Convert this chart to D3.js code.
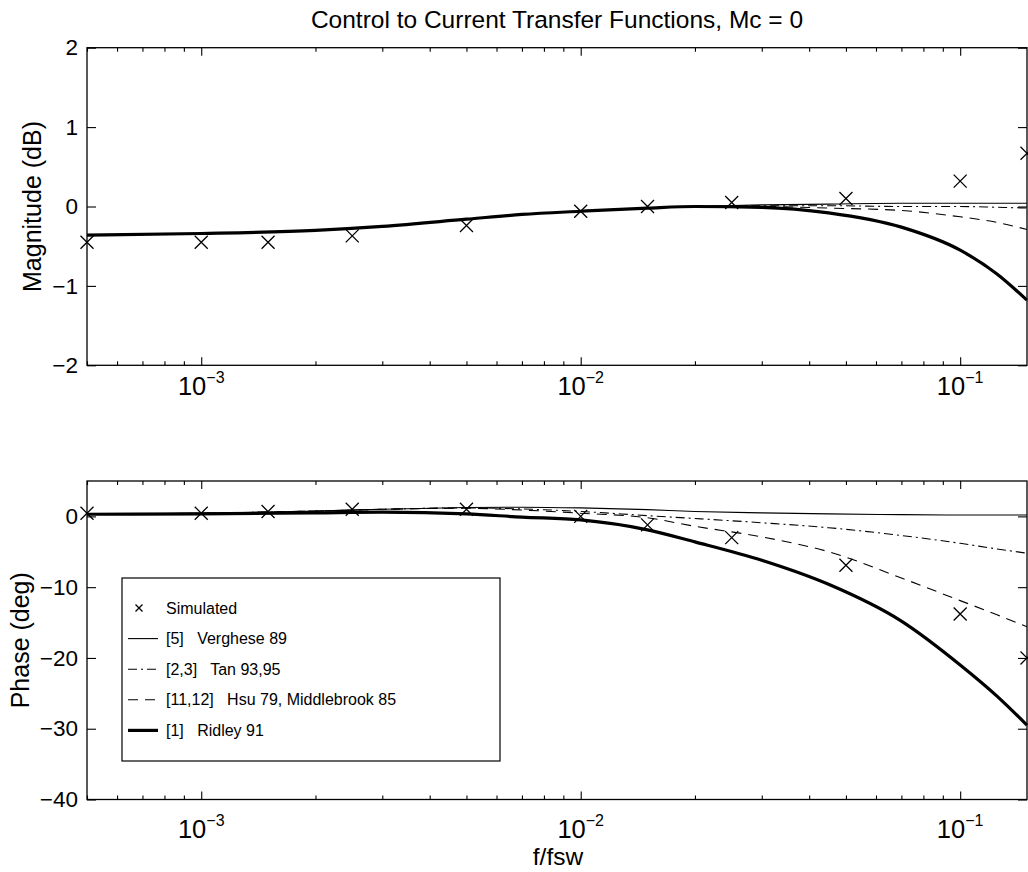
<!DOCTYPE html>
<html>
<head>
<meta charset="utf-8">
<script src="https://cdn.jsdelivr.net/npm/d3@7"></script>
<style>
body { margin: 0; background: #fff; }
svg { display: block; font-family: "Liberation Sans", Arial, Helvetica, sans-serif; }
</style>
</head>
<body>
<div id="chart"></div>
<script>
const freq = [5e-4, 1e-3, 2e-3, 3e-3, 5e-3, 7e-3, 1e-2, 1.5e-2, 2e-2, 3e-2, 4.5e-2, 7e-2, 0.1, 0.125, 0.15];

// magnitude, dB
const magVerghese = [-0.36, -0.34, -0.30, -0.25, -0.16, -0.10, -0.06, -0.02, 0.0, 0.02, 0.03, 0.04, 0.04, 0.04, 0.04];
const magTan      = [-0.36, -0.34, -0.30, -0.25, -0.16, -0.10, -0.06, -0.02, 0.0, 0.01, 0.01, 0.0, 0.0, -0.01, -0.02];
const magHsu      = [-0.36, -0.34, -0.30, -0.25, -0.16, -0.10, -0.06, -0.02, 0.0, 0.0, -0.02, -0.05, -0.13, -0.20, -0.29];
const magRidley   = [-0.36, -0.34, -0.30, -0.25, -0.16, -0.10, -0.06, -0.02, 0.0, -0.01, -0.08, -0.26, -0.55, -0.85, -1.18];

// phase, deg
const phVerghese = [0.35, 0.45, 0.75, 1.0, 1.25, 1.3, 1.2, 0.95, 0.7, 0.5, 0.35, 0.25, 0.2, 0.2, 0.2];
const phTan      = [0.35, 0.45, 0.75, 1.0, 1.2, 1.05, 0.7, 0.1, -0.3, -0.9, -1.6, -2.7, -3.8, -4.6, -5.2];
const phHsu      = [0.35, 0.45, 0.75, 1.0, 1.15, 0.9, 0.45, -0.2, -1.4, -2.9, -5.0, -8.7, -11.9, -13.9, -15.6];
const phRidley   = [0.3, 0.35, 0.5, 0.6, 0.35, -0.1, -0.5, -1.9, -3.6, -6.2, -9.6, -14.8, -21.0, -25.4, -29.5];

// simulated points
const simFreq  = [5e-4, 1e-3, 1.5e-3, 2.5e-3, 5e-3, 1e-2, 1.5e-2, 2.5e-2, 5e-2, 0.1, 0.15];
const simMag   = [-0.45, -0.45, -0.45, -0.37, -0.24, -0.06, 0.0, 0.05, 0.1, 0.32, 0.67];
const simPhase = [0.45, 0.45, 0.68, 1.0, 1.0, 0.0, -1.2, -3.0, -6.9, -13.8, -20.0];

const majorTicks = [1e-3, 1e-2, 1e-1];
const majorLabels = ["−3", "−2", "−1"];
const magTicks = [-2, -1, 0, 1, 2];
const phaseTicks = [-40, -30, -20, -10, 0];
const seriesNames = ["[5]   Verghese 89", "[2,3]   Tan 93,95", "[11,12]   Hsu 79, Middlebrook 85", "[1]   Ridley 91"];

const width = 1028, height = 872;
const left = 87, right = 1027;

const styles = [
    { w: 1.1, dash: null },
    { w: 1.1, dash: "9,4,2,4" },
    { w: 1.1, dash: "10,7" },
    { w: 3.2, dash: null }
];

const svg = d3.select("#chart").append("svg")
    .attr("width", width).attr("height", height);
svg.append("rect").attr("width", width).attr("height", height).attr("fill", "#fff");

const x = d3.scaleLog().domain([5e-4, 0.15]).range([left, right]);
const minorTicks = x.ticks().filter(d => !majorTicks.some(m => Math.abs(m - d) / m < 1e-6));

const fmt = d => d < 0 ? "−" + (-d) : String(d);

function xMark(sel, size) {
    return sel.attr("d", `M${-size},${-size}L${size},${size}M${-size},${size}L${size},${-size}`);
}

function panel(top, bottom, yDomain, yTicks, curves, sim, yLabel, yLabelX, labelGap) {
    const y = d3.scaleLinear().domain(yDomain).range([bottom, top]);
    const g = svg.append("g");

    // ticks, all pointing inside
    const axes = [
        [d3.axisBottom(x), `translate(0,${bottom})`],
        [d3.axisTop(x), `translate(0,${top})`]
    ];
    axes.forEach(([ax, tr]) => {
        g.append("g").attr("transform", tr)
            .call(ax.tickValues(majorTicks).tickSize(-8).tickFormat(""));
        g.append("g").attr("transform", tr)
            .call(ax.tickValues(minorTicks).tickSize(-4).tickFormat(""));
    });
    g.append("g").attr("transform", `translate(${left},0)`)
        .call(d3.axisLeft(y).tickValues(yTicks).tickSize(-9).tickPadding(9).tickFormat(fmt))
        .call(a => a.selectAll("text").attr("font-size", 22.5).attr("fill", "#000")
            .attr("font-family", "Liberation Sans, Arial, sans-serif"));
    g.append("g").attr("transform", `translate(${right},0)`)
        .call(d3.axisRight(y).tickValues(yTicks).tickSize(-9).tickFormat(""));
    g.selectAll(".domain").remove();
    g.selectAll(".tick line").attr("stroke", "#000").attr("stroke-width", 1.1);

    g.append("rect")
        .attr("x", left).attr("y", top)
        .attr("width", right - left).attr("height", bottom - top)
        .attr("fill", "none").attr("stroke", "#000").attr("stroke-width", 1.3);

    // 10^n labels
    majorTicks.forEach((t, i) => {
        const txt = g.append("text")
            .attr("x", x(t)).attr("y", bottom + labelGap)
            .attr("text-anchor", "middle").attr("font-size", 25.5);
        txt.append("tspan").text("10");
        txt.append("tspan").attr("dy", -12).attr("font-size", 16).text(majorLabels[i]);
    });

    g.append("text")
        .attr("transform", `translate(${yLabelX},${(top + bottom) / 2}) rotate(-90)`)
        .attr("text-anchor", "middle").attr("font-size", 25)
        .text(yLabel);

    const line = d3.line()
        .x((d, i) => x(freq[i]))
        .y(d => y(d))
        .curve(d3.curveMonotoneX);

    curves.forEach((c, i) => {
        g.append("path")
            .attr("d", line(c))
            .attr("fill", "none")
            .attr("stroke", "#000")
            .attr("stroke-width", styles[i].w)
            .attr("stroke-dasharray", styles[i].dash);
    });

    g.selectAll(".sim").data(sim).enter().append("path")
        .attr("class", "sim")
        .attr("transform", (d, i) => `translate(${x(simFreq[i])},${y(d)})`)
        .call(xMark, 6.5)
        .attr("fill", "none").attr("stroke", "#000").attr("stroke-width", 1.3);

    return g;
}

panel(47.7, 365.3, [-2, 2], magTicks,
    [magVerghese, magTan, magHsu, magRidley], simMag, "Magnitude (dB)", 41, 30);

panel(481, 799.5, [-40, 5], phaseTicks,
    [phVerghese, phTan, phHsu, phRidley], simPhase, "Phase (deg)", 29, 38);

svg.append("text")
    .attr("x", 557).attr("y", 28)
    .attr("text-anchor", "middle").attr("font-size", 24.5)
    .text("Control to Current Transfer Functions, Mc = 0");

svg.append("text")
    .attr("x", 558).attr("y", 865)
    .attr("text-anchor", "middle").attr("font-size", 24.5)
    .text("f/fsw");

// legend
const lg = svg.append("g");
lg.append("rect")
    .attr("x", 122).attr("y", 578).attr("width", 378).attr("height", 183)
    .attr("fill", "#fff").attr("stroke", "#000").attr("stroke-width", 1.2);

const rowY = i => 608 + i * 30.6;

lg.append("path")
    .attr("transform", `translate(139,${rowY(0)})`)
    .call(xMark, 3.5)
    .attr("fill", "none").attr("stroke", "#000").attr("stroke-width", 1.3);

seriesNames.forEach((name, i) => {
    lg.append("line")
        .attr("x1", 128).attr("x2", 158)
        .attr("y1", rowY(i + 1)).attr("y2", rowY(i + 1))
        .attr("stroke", "#000")
        .attr("stroke-width", styles[i].w)
        .attr("stroke-dasharray", styles[i].dash);
});

lg.selectAll(".lab").data(["Simulated"].concat(seriesNames)).enter().append("text")
    .attr("class", "lab")
    .attr("x", 166).attr("y", (d, i) => rowY(i) + 5.5)
    .attr("font-size", 16)
    .attr("xml:space", "preserve")
    .style("white-space", "pre")
    .text(d => d);
</script>
</body>
</html>
